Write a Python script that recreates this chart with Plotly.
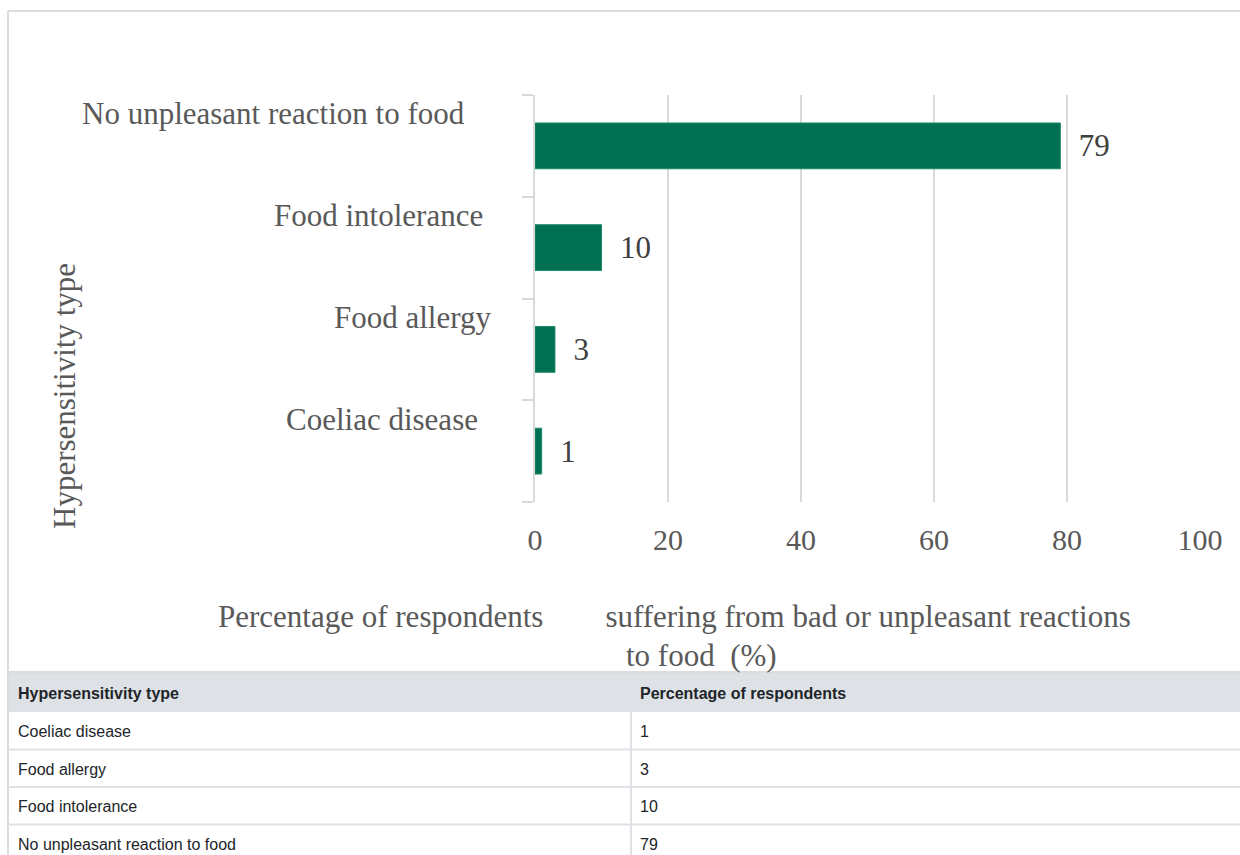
import plotly.graph_objects as go

# ---- data ----
categories = ["Coeliac disease", "Food allergy", "Food intolerance", "No unpleasant reaction to food"]
values = [1, 3, 10, 79]
x_ticks = [0, 20, 40, 60, 80, 100]
table_header = ["Hypersensitivity type", "Percentage of respondents"]
y_title = "Hypersensitivity type"
x_title_line1 = "Percentage of respondents" + "\u00a0" * 8 + "suffering from bad or unpleasant reactions"
x_title_line2 = "to food\u00a0\u00a0(%)"

W, H = 1240, 880   # page is clipped at 855 px by the viewport
SERIF = "Liberation Serif, Times New Roman, serif"
SANS = "Liberation Sans, Arial, sans-serif"
GRAY = "#595959"
GRID = "#d9d9d9"
GREEN = "#007052"
HEAD_BG = "#dee2e6"
FRAME = "#dcdcdc"
FS = 31

# table layout (pixels from the top of the page)
TABLE_TOP, HEADER_H, ROW_H, TABLE_LEFT, COL_SPLIT = 672, 40, 37.5, 8, 631
TEXT_DROP = 5   # table text sits a little lower inside its cells
TEXT_INSET = 2  # and a little further right

def px(xp):
    return xp / W

def py(yp):
    return 1 - yp / H

fig = go.Figure()

fig.add_trace(go.Bar(
    x=values, y=categories, orientation="h",
    marker=dict(color=GREEN, line=dict(color="#1a8a6a", width=1)),
    width=0.45,
    text=["\u00a0\u00a0" + str(v) for v in values],
    textposition="outside",
    textfont=dict(family=SERIF, size=FS, color="#404040"),
    cliponaxis=False,
    hoverinfo="x+y",
))

fig.add_trace(go.Table(
    domain=dict(x=[px(TABLE_LEFT + TEXT_INSET), 1.0], y=[0, py(TABLE_TOP + TEXT_DROP)]),
    columnwidth=[COL_SPLIT - TABLE_LEFT, W - COL_SPLIT],
    header=dict(
        values=["<b>%s</b>" % h for h in table_header],
        fill_color="rgba(0,0,0,0)",
        line=dict(color="rgba(0,0,0,0)", width=0),
        align="left",
        font=dict(family=SANS, size=16, color="#212529"),
        height=HEADER_H,
    ),
    cells=dict(
        values=[categories, values],
        fill_color="rgba(0,0,0,0)",
        line=dict(color="rgba(0,0,0,0)", width=0),
        align="left",
        font=dict(family=SANS, size=16, color="#212529"),
        height=ROW_H,
    ),
))

# category labels (placed like the reference, above each bar)
label_right = [480, 493, 485, 467]
annotations = []
for cat, xr in zip(categories, label_right):
    annotations.append(dict(
        x=px(xr), xref="paper", y=cat, yref="y", yshift=32,
        text=cat, showarrow=False, xanchor="right", yanchor="middle",
        font=dict(family=SERIF, size=FS, color=GRAY),
    ))

annotations.append(dict(
    x=px(65), y=py(396), xref="paper", yref="paper", text=y_title, textangle=-90,
    showarrow=False, xanchor="center", yanchor="middle",
    font=dict(family=SERIF, size=FS, color=GRAY),
))
annotations.append(dict(
    x=px(674), y=py(616), xref="paper", yref="paper", text=x_title_line1,
    showarrow=False, xanchor="center", yanchor="middle",
    font=dict(family=SERIF, size=FS, color=GRAY),
))
annotations.append(dict(
    x=px(701), y=py(655), xref="paper", yref="paper", text=x_title_line2,
    showarrow=False, xanchor="center", yanchor="middle",
    font=dict(family=SERIF, size=FS, color=GRAY),
))

body_top = TABLE_TOP + HEADER_H
shapes = [
    # table header band
    dict(type="rect", xref="paper", yref="paper", x0=px(TABLE_LEFT), x1=1.0,
         y0=py(body_top), y1=py(TABLE_TOP), line=dict(width=0), fillcolor=HEAD_BG, layer="below"),
    # outer frame: top, left, and the line at the table top
    dict(type="line", xref="paper", yref="paper", x0=px(TABLE_LEFT), x1=1.0, y0=py(11), y1=py(11),
         line=dict(color=FRAME, width=2)),
    dict(type="line", xref="paper", yref="paper", x0=px(TABLE_LEFT), x1=px(TABLE_LEFT), y0=py(11), y1=0,
         line=dict(color=FRAME, width=2)),
    dict(type="line", xref="paper", yref="paper", x0=px(TABLE_LEFT), x1=1.0,
         y0=py(TABLE_TOP), y1=py(TABLE_TOP), line=dict(color=FRAME, width=2)),
    # column divider in the body
    dict(type="line", xref="paper", yref="paper", x0=px(COL_SPLIT), x1=px(COL_SPLIT),
         y0=py(body_top), y1=0, line=dict(color=HEAD_BG, width=2)),
]
for i in range(1, len(categories) + 1):
    yl = body_top + i * ROW_H
    shapes.append(dict(type="line", xref="paper", yref="paper", x0=px(TABLE_LEFT), x1=1.0,
                       y0=py(yl), y1=py(yl), line=dict(color=HEAD_BG, width=2)))

fig.update_layout(
    width=W, height=H,
    margin=dict(l=0, r=0, t=0, b=0, autoexpand=False),
    paper_bgcolor="white", plot_bgcolor="white",
    showlegend=False,
    xaxis=dict(
        domain=[px(535), px(1200)], range=[0, 100], automargin=False,
        tickvals=x_ticks, showgrid=True, gridcolor=GRID, gridwidth=1.5,
        zeroline=False, showline=False, ticks="",
        tickfont=dict(family=SERIF, size=30, color=GRAY),
        ticklabelstandoff=17, fixedrange=True,
    ),
    yaxis=dict(
        domain=[py(502), py(95)], range=[-0.5, 3.5], automargin=False,
        categoryorder="array", categoryarray=categories,
        showticklabels=False, showgrid=False, zeroline=False,
        showline=True, linecolor=GRID, linewidth=2,
        ticks="outside", tickson="boundaries", ticklen=11, tickcolor=GRID, tickwidth=1.5,
        fixedrange=True,
    ),
    annotations=annotations,
    shapes=shapes,
)

page_fix = (
    "document.body.style.margin='0';"
    "document.body.style.overflow='hidden';"
    "document.documentElement.style.overflow='hidden';"
)
fig.write_html("out.html", post_script=page_fix, config={"responsive": False, "displayModeBar": False})
